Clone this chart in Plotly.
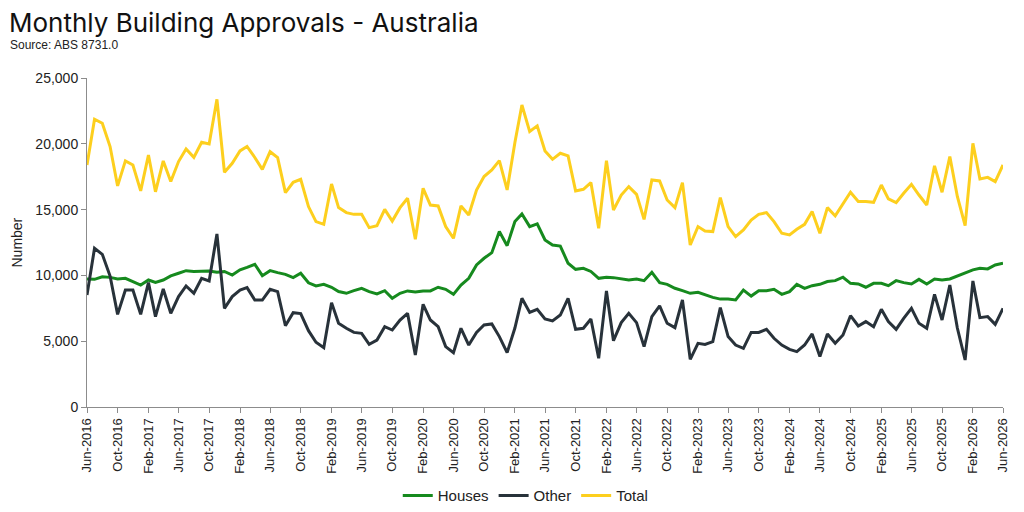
import pandas as pd
import plotly.graph_objects as go

months = pd.date_range("2016-06-01", "2026-06-01", freq="MS")

houses = [
    9730, 9700, 9900, 9850, 9730, 9780, 9530, 9270, 9650, 9470,
    9650, 9960, 10160, 10360, 10300, 10300, 10340, 10240, 10300, 10030,
    10420, 10610, 10840, 9980, 10360, 10210, 10080, 9830, 10160, 9440,
    9200, 9320, 9100, 8770, 8640, 8840, 9020, 8770, 8590, 8840,
    8260, 8640, 8820, 8740, 8820, 8820, 9100, 8940, 8560, 9270,
    9780, 10790, 11300, 11730, 13330, 12260, 14090, 14670, 13710, 13910,
    12690, 12310, 12230, 10920, 10460, 10540, 10300, 9780, 9860, 9830,
    9730, 9650, 9730, 9600, 10240, 9450, 9320, 9020, 8840, 8640,
    8710, 8510, 8330, 8200, 8200, 8130, 8890, 8430, 8840, 8840,
    8940, 8560, 8770, 9320, 9020, 9220, 9320, 9530, 9600, 9860,
    9400, 9350, 9100, 9400, 9400, 9220, 9600, 9450, 9350, 9700,
    9350, 9730, 9650, 9730, 9960, 10160, 10420, 10540, 10490, 10790,
    10920,
]

other = [
    8510, 12060, 11600, 9950, 7040, 8890, 8890, 7040, 9450, 6870,
    8970, 7120, 8390, 9200, 8640, 9780, 9580, 13150, 7500, 8390,
    8890, 9070, 8130, 8130, 8940, 8770, 6180, 7170, 7100, 5800,
    4920, 4510, 7930, 6360, 5980, 5670, 5600, 4760, 5090, 6100,
    5850, 6610, 7120, 3950, 7800, 6610, 6100, 4590, 4130, 5980,
    4710, 5670, 6230, 6310, 5350, 4130, 6000, 8260, 7190, 7420,
    6690, 6540, 6990, 8260, 5900, 5980, 6690, 3700, 8820, 5040,
    6410, 7120, 6410, 4590, 6870, 7680, 6360, 6030, 8130, 3620,
    4840, 4760, 4970, 7550, 5350, 4710, 4460, 5670, 5670, 5900,
    5220, 4710, 4380, 4210, 4710, 5550, 3830, 5550, 4840, 5470,
    6940, 6160, 6490, 6100, 7420, 6490, 5900, 6740, 7500, 6360,
    5980, 8560, 6610, 9270, 6000, 3570, 9580, 6790, 6870, 6280,
    7500,
]

total = [
    18390, 21870, 21560, 19790, 16800, 18700, 18390, 16420, 19150, 16350,
    18700, 17130, 18650, 19610, 18970, 20120, 19990, 23380, 17840, 18520,
    19460, 19800, 18960, 18060, 19400, 18960, 16290, 17070, 17300, 15230,
    14090, 13880, 16950, 15150, 14770, 14640, 14640, 13630, 13780, 15020,
    14130, 15150, 15860, 12740, 16620, 15350, 15280, 13710, 12820, 15280,
    14590, 16490, 17510, 18010, 18720, 16490, 20100, 22950, 20930, 21360,
    19460, 18820, 19280, 19080, 16420, 16540, 17050, 13580, 18720, 14970,
    16110, 16750, 16160, 14260, 17250, 17180, 15730, 15150, 17050, 12310,
    13710, 13380, 13330, 15910, 13710, 12950, 13450, 14210, 14640, 14770,
    14090, 13200, 13070, 13500, 13880, 14850, 13200, 15150, 14520, 15430,
    16320, 15610, 15610, 15550, 16870, 15810, 15530, 16240, 16920, 16110,
    15350, 18320, 16320, 19030, 16000, 13780, 20040, 17330, 17450, 17130,
    18390,
]

sans = "Liberation Sans, Arial, sans-serif"

fig = go.Figure()
fig.add_trace(go.Scatter(x=months, y=houses, mode="lines", name="Houses",
                         line=dict(color="#168a1e", width=3)))
fig.add_trace(go.Scatter(x=months, y=other, mode="lines", name="Other",
                         line=dict(color="#28323a", width=3)))
fig.add_trace(go.Scatter(x=months, y=total, mode="lines", name="Total",
                         line=dict(color="#fdcf1e", width=3)))

# page body adds an 8px offset, so margins are shifted to compensate
fig.update_layout(
    width=1024,
    height=512,
    paper_bgcolor="white",
    plot_bgcolor="white",
    margin=dict(l=79, r=29, t=70, b=113, autoexpand=False),
    title=dict(
        text="Monthly Building Approvals - Australia",
        x=0.001, xanchor="left", y=0.971, yanchor="middle",
        font=dict(family="Inter, Open Sans, sans-serif", size=26, color="#111111"),
    ),
    showlegend=True,
    legend=dict(
        orientation="h", x=0.479, xanchor="center", y=-0.27, yanchor="middle",
        font=dict(family=sans, size=15, color="#222222"),
        itemwidth=30, tracegroupgap=0,
    ),
    xaxis=dict(
        type="date", automargin=False,
        range=[months[0], months[-1]],
        tick0="2016-06-01", dtick="M4", tickformat="%b-%Y",
        tickangle=-90,
        showgrid=False, showline=True, linecolor="#8c8c8c", linewidth=1,
        ticks="outside", ticklen=5, tickcolor="#8c8c8c",
        tickfont=dict(family=sans, size=13, color="#222222"),
    ),
    yaxis=dict(
        range=[0, 25000], tickvals=[0, 5000, 10000, 15000, 20000, 25000],
        tickformat=",d", automargin=False,
        showgrid=False, showline=True, linecolor="#8c8c8c", linewidth=1,
        ticks="outside", ticklen=5, tickcolor="#8c8c8c",
        tickfont=dict(family=sans, size=14, color="#222222"),
        zeroline=False,
    ),
    annotations=[
        dict(text="Source: ABS 8731.0", xref="paper", yref="paper",
             x=-0.0862, y=1.1, xanchor="left", yanchor="middle", showarrow=False,
             font=dict(family=sans, size=12, color="#222222")),
        dict(text="Number", xref="paper", yref="paper",
             x=-0.0775, y=0.5, xanchor="center", yanchor="middle", showarrow=False,
             textangle=-90, font=dict(family=sans, size=14, color="#222222")),
    ],
)

fig.write_html("out.html")
